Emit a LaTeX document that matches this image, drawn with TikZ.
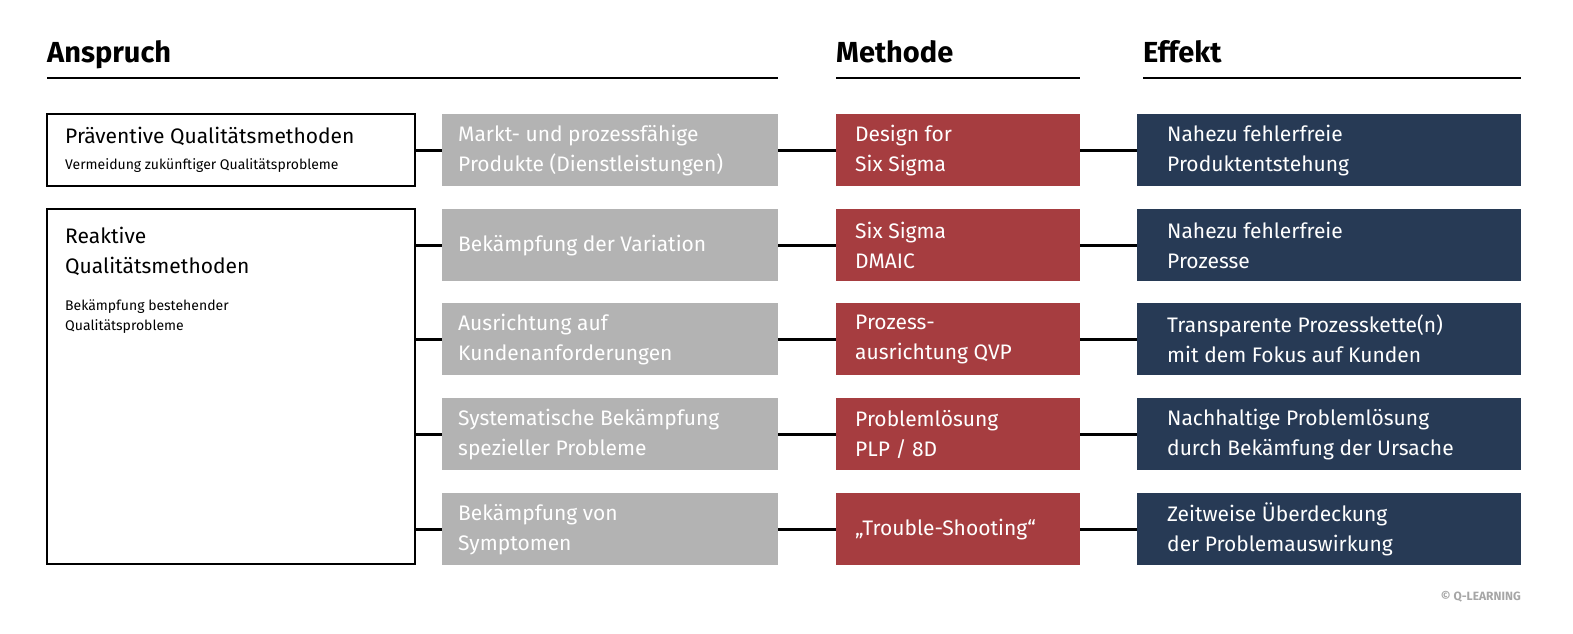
\documentclass[tikz,border=0pt]{standalone}
\usepackage{fontspec}
\setmainfont{Fira Sans}
\definecolor{gbox}{HTML}{B3B3B3}
\definecolor{rbox}{HTML}{A63D40}
\definecolor{nbox}{HTML}{273A55}
\begin{document}
\begin{tikzpicture}[x=1pt,y=-1pt,
  cell/.style={anchor=north west,inner sep=0pt,minimum height=72pt,text=white,align=left,font=\fontsize{21}{30}\selectfont},
  conn/.style={line width=3pt,black},
  hdr/.style={anchor=base west,inner sep=0pt,font=\fontsize{29}{34}\selectfont\bfseries}]
\useasboundingbox (0,0) rectangle (1573,633);
\node[hdr] (h1) at (47,62) {Anspruch};
\node[hdr] (h2) at (836,62) {Methode};
\node[hdr] (h3) at (1143,62) {Effekt};
\draw[line width=1.5pt] (47,78) -- (778,78) (836,78) -- (1080,78) (1143,78) -- (1521,78);
% left boxes
\draw[line width=2pt] (47,114) rectangle (415,186);
\node[anchor=west,inner sep=0pt,font=\fontsize{21}{26}\selectfont] at (65,136) {Präventive Qualitätsmethoden};
\node[anchor=west,inner sep=0pt,font=\fontsize{14}{18}\selectfont] at (65,166) {Vermeidung zukünftiger Qualitätsprobleme};
\draw[line width=2pt] (47,209) rectangle (415,564);
\node[anchor=north west,inner sep=0pt,align=left,font=\fontsize{21}{30}\selectfont] at (65,227) {Reaktive\\Qualitätsmethoden};
\node[anchor=north west,inner sep=0pt,align=left,font=\fontsize{14}{20}\selectfont] at (65,300) {Bekämpfung bestehender\\Qualitätsprobleme};
\foreach \i/\y/\a/\b/\c in {
 1/114/{Markt- und prozessfähige\\Produkte (Dienstleistungen)}/{Design for\\Six Sigma}/{Nahezu fehlerfreie\\Produktentstehung},
 2/209/{Bekämpfung der Variation}/{Six Sigma\\DMAIC}/{Nahezu fehlerfreie\\Prozesse},
 3/303/{Ausrichtung auf\\Kundenanforderungen}/{Prozess-\\ausrichtung QVP}/{Transparente Prozesskette(n)\\mit dem Fokus auf Kunden},
 4/398/{Systematische Bekämpfung\\spezieller Probleme}/{Problemlösung\\PLP / 8D}/{Nachhaltige Problemlösung\\durch Bekämfung der Ursache},
 5/493/{Bekämpfung von\\Symptomen}/{„Trouble-Shooting“}/{Zeitweise Überdeckung\\der Problemauswirkung}}{
  \fill[gbox] (442,\y) rectangle (778,\y+72);
  \node[cell] (g\i) at (458,\y) {\vbox to 72pt{\vfil\hbox{\parbox{310pt}{\a}}\vfil}};
  \fill[rbox] (836,\y) rectangle (1080,\y+72);
  \node[cell] (r\i) at (855,\y) {\vbox to 72pt{\vfil\hbox{\parbox{220pt}{\b}}\vfil}};
  \fill[nbox] (1137,\y) rectangle (1521,\y+72);
  \node[cell] (n\i) at (1167,\y) {\vbox to 72pt{\vfil\hbox{\parbox{350pt}{\c}}\vfil}};
  \coordinate (gl\i) at (442,\y+36); \coordinate (gr\i) at (778,\y+36);
  \coordinate (rl\i) at (836,\y+36); \coordinate (rr\i) at (1080,\y+36);
  \coordinate (nl\i) at (1137,\y+36); \coordinate (ll\i) at (415,\y+36);
  \draw[conn] (ll\i) -- (gl\i);
  \draw[conn] (gr\i) -- (rl\i);
  \draw[conn] (rr\i) -- (nl\i);
}
\node[anchor=east,inner sep=0pt,text=gray!70,font=\fontsize{12}{14}\selectfont\bfseries] (cp) at (1521,597) {© Q-LEARNING};
\end{tikzpicture}
\end{document}
